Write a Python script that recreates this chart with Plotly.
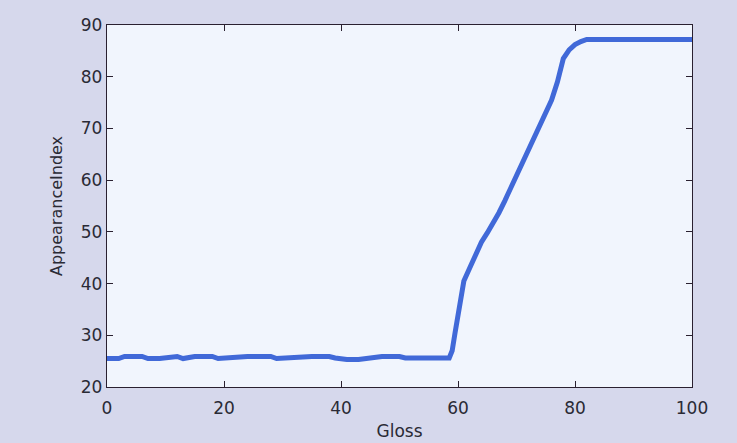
import plotly.graph_objects as go

# Gloss vs. appearance index
gloss = [0, 2, 3, 6, 7, 9, 12, 13, 15, 18, 19, 24, 28, 29, 35, 38, 39, 41, 43, 44, 45,
         47, 50, 51, 58.5, 59, 59.5, 60, 60.5, 61, 62, 63, 64, 65, 66, 67, 68, 69, 70,
         71, 72, 73, 74, 75, 76, 77, 78, 79, 80, 81, 82, 85, 90, 95, 100]
appearance = [25.5, 25.5, 25.9, 25.9, 25.5, 25.5, 25.9, 25.5, 25.9, 25.9, 25.5, 25.9,
              25.9, 25.5, 25.9, 25.9, 25.6, 25.3, 25.3, 25.5, 25.6, 25.9, 25.9, 25.6,
              25.6, 27.0, 30.5, 34.0, 37.5, 40.5, 43.0, 45.5, 48.0, 49.8, 51.7, 53.7,
              56.0, 58.5, 61.0, 63.5, 65.8, 68.2, 70.6, 73.0, 75.5, 79.0, 83.5, 85.2,
              86.2, 86.8, 87.2, 87.2, 87.2, 87.2, 87.2]

x_ticks = [0, 20, 40, 60, 80, 100]
y_ticks = [20, 30, 40, 50, 60, 70, 80, 90]

FONT = "DejaVu Sans, Verdana, sans-serif"

fig = go.Figure(go.Scatter(
    x=gloss, y=appearance, mode="lines",
    line=dict(color="#4169d8", width=5),
    showlegend=False,
))

axis_common = dict(
    showgrid=False, zeroline=False, automargin=False,
    showline=True, linecolor="#2a2030", linewidth=1.3, mirror="ticks",
    ticks="inside", ticklen=6, tickcolor="#2a2030", tickwidth=1.3,
    tickfont=dict(family=FONT, size=17, color="#2a2a35"),
)

fig.update_layout(
    width=737, height=443,
    margin=dict(l=107, r=45, t=25, b=56),
    paper_bgcolor="#d6d8ec",
    plot_bgcolor="#f1f5fd",
    font=dict(family=FONT, color="#2a2a35"),
    xaxis=dict(range=[0, 100], tickvals=x_ticks, ticklabelstandoff=5,
               title=dict(text="Gloss", font=dict(size=17), standoff=8),
               **axis_common),
    yaxis=dict(range=[20, 90], tickvals=y_ticks,
               title=dict(text="AppearanceIndex", font=dict(size=16), standoff=14),
               **axis_common),
)

fig.write_html("out.html")
